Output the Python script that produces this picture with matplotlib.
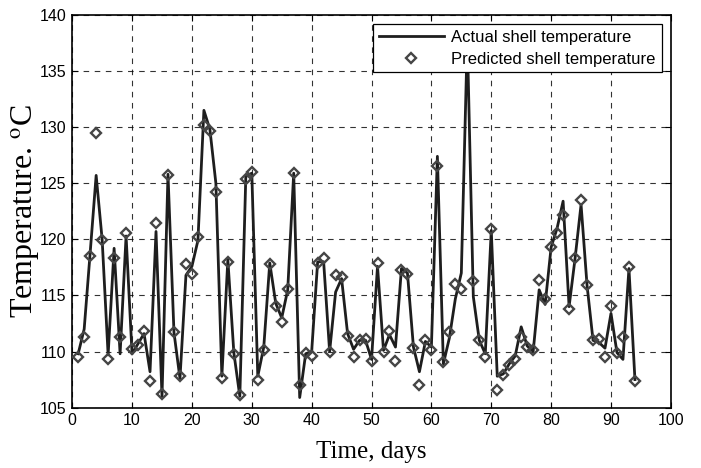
import matplotlib
matplotlib.use("Agg")
import matplotlib.pyplot as plt

days = list(range(1, 95))

actual = [109.8, 112.0, 118.8, 125.7, 120.0, 109.7, 119.2, 109.8, 120.3, 109.8,
          110.7, 111.6, 108.2, 120.7, 106.0, 125.8, 111.7, 107.6, 116.8, 117.6,
          119.9, 131.5, 129.8, 125.0, 107.8, 118.2, 109.9, 106.0, 125.6, 125.9,
          107.8, 110.4, 117.9, 114.3, 113.0, 115.5, 125.9, 105.9, 109.8, 110.0,
          118.0, 118.0, 110.0, 115.3, 116.5, 111.6, 110.2, 111.0, 111.0, 109.3,
          117.6, 110.1, 111.5, 110.4, 117.4, 117.0, 110.4, 108.2, 110.9, 110.4,
          127.4, 108.9, 111.2, 114.7, 117.0, 138.0, 114.9, 111.0, 109.8, 120.8,
          107.8, 108.0, 108.9, 109.6, 112.2, 110.5, 110.0, 115.5, 114.2, 119.3,
          121.0, 123.4, 114.0, 118.3, 123.1, 115.9, 111.0, 110.8, 110.3, 113.4,
          109.9, 109.3, 117.4, 107.5]

predicted = [109.5, 111.3, 118.5, 129.5, 119.9, 109.3, 118.3, 111.3, 120.6, 110.2,
             110.6, 111.8, 107.4, 121.5, 106.2, 125.7, 111.7, 107.8, 117.8, 116.9,
             120.2, 130.2, 129.7, 124.2, 107.6, 118.0, 109.8, 106.1, 125.4, 126.0,
             107.5, 110.1, 117.8, 114.1, 112.6, 115.6, 125.9, 107.0, 109.9, 109.6,
             117.9, 118.3, 110.0, 116.8, 116.6, 111.4, 109.5, 111.0, 111.1, 109.2,
             117.9, 110.0, 111.8, 109.2, 117.3, 116.9, 110.3, 107.0, 111.0, 110.1,
             126.5, 109.1, 111.7, 116.0, 115.6, 137.0, 116.3, 111.0, 109.5, 120.9,
             106.6, 107.9, 108.8, 109.3, 111.3, 110.4, 110.1, 116.4, 114.7, 119.3,
             120.6, 122.2, 113.8, 118.3, 123.5, 115.9, 111.0, 111.1, 109.5, 114.1,
             109.9, 111.3, 117.5, 107.4]

xticks = list(range(0, 101, 10))
yticks = list(range(105, 141, 5))

plt.rcParams['mathtext.fontset'] = 'stix'

fig = plt.figure(figsize=(7.01, 4.68), dpi=100)
ax = fig.add_axes([0.103, 0.129, 0.854, 0.839])

ax.plot(days, actual, color='#1e1e1e', linewidth=2.0, label='Actual shell temperature', zorder=3)
ax.plot(days, predicted, linestyle='none', marker='D', markersize=5.2,
        markerfacecolor='none', markeredgecolor='#454545', markeredgewidth=1.7,
        label='Predicted shell temperature', zorder=4)

ax.set_xlim(0, 100)
ax.set_ylim(105, 140)
ax.set_xticks(xticks)
ax.set_yticks(yticks)
ax.tick_params(direction='in', top=True, right=True, length=4, width=0.8,
               labelsize=11.5, pad=4)
for lbl in ax.get_xticklabels() + ax.get_yticklabels():
    lbl.set_family('Liberation Sans')

ax.grid(True, color='black', linestyle=(0, (5, 5)), linewidth=0.8, alpha=0.8)
for s in ax.spines.values():
    s.set_linewidth(1.2)

ax.set_xlabel('Time, days', family='Liberation Serif', fontsize=18)
ax.xaxis.set_label_coords(0.5, -0.085)
ax.xaxis.label.set_verticalalignment('top')
ax.set_ylabel(r'Temperature. $^{\mathrm{o}}$C', family='Liberation Serif', fontsize=23)
ax.yaxis.set_label_coords(-0.05, 0.5)

leg = ax.legend(loc='upper right', prop={'family': 'Liberation Sans', 'size': 12},
                frameon=True, fancybox=False, edgecolor='black', framealpha=1,
                borderaxespad=0.55, handlelength=3.9, handletextpad=0.45,
                borderpad=0.35, labelspacing=0.4)
leg.get_frame().set_linewidth(0.9)

fig.savefig('out.png', dpi=100)
